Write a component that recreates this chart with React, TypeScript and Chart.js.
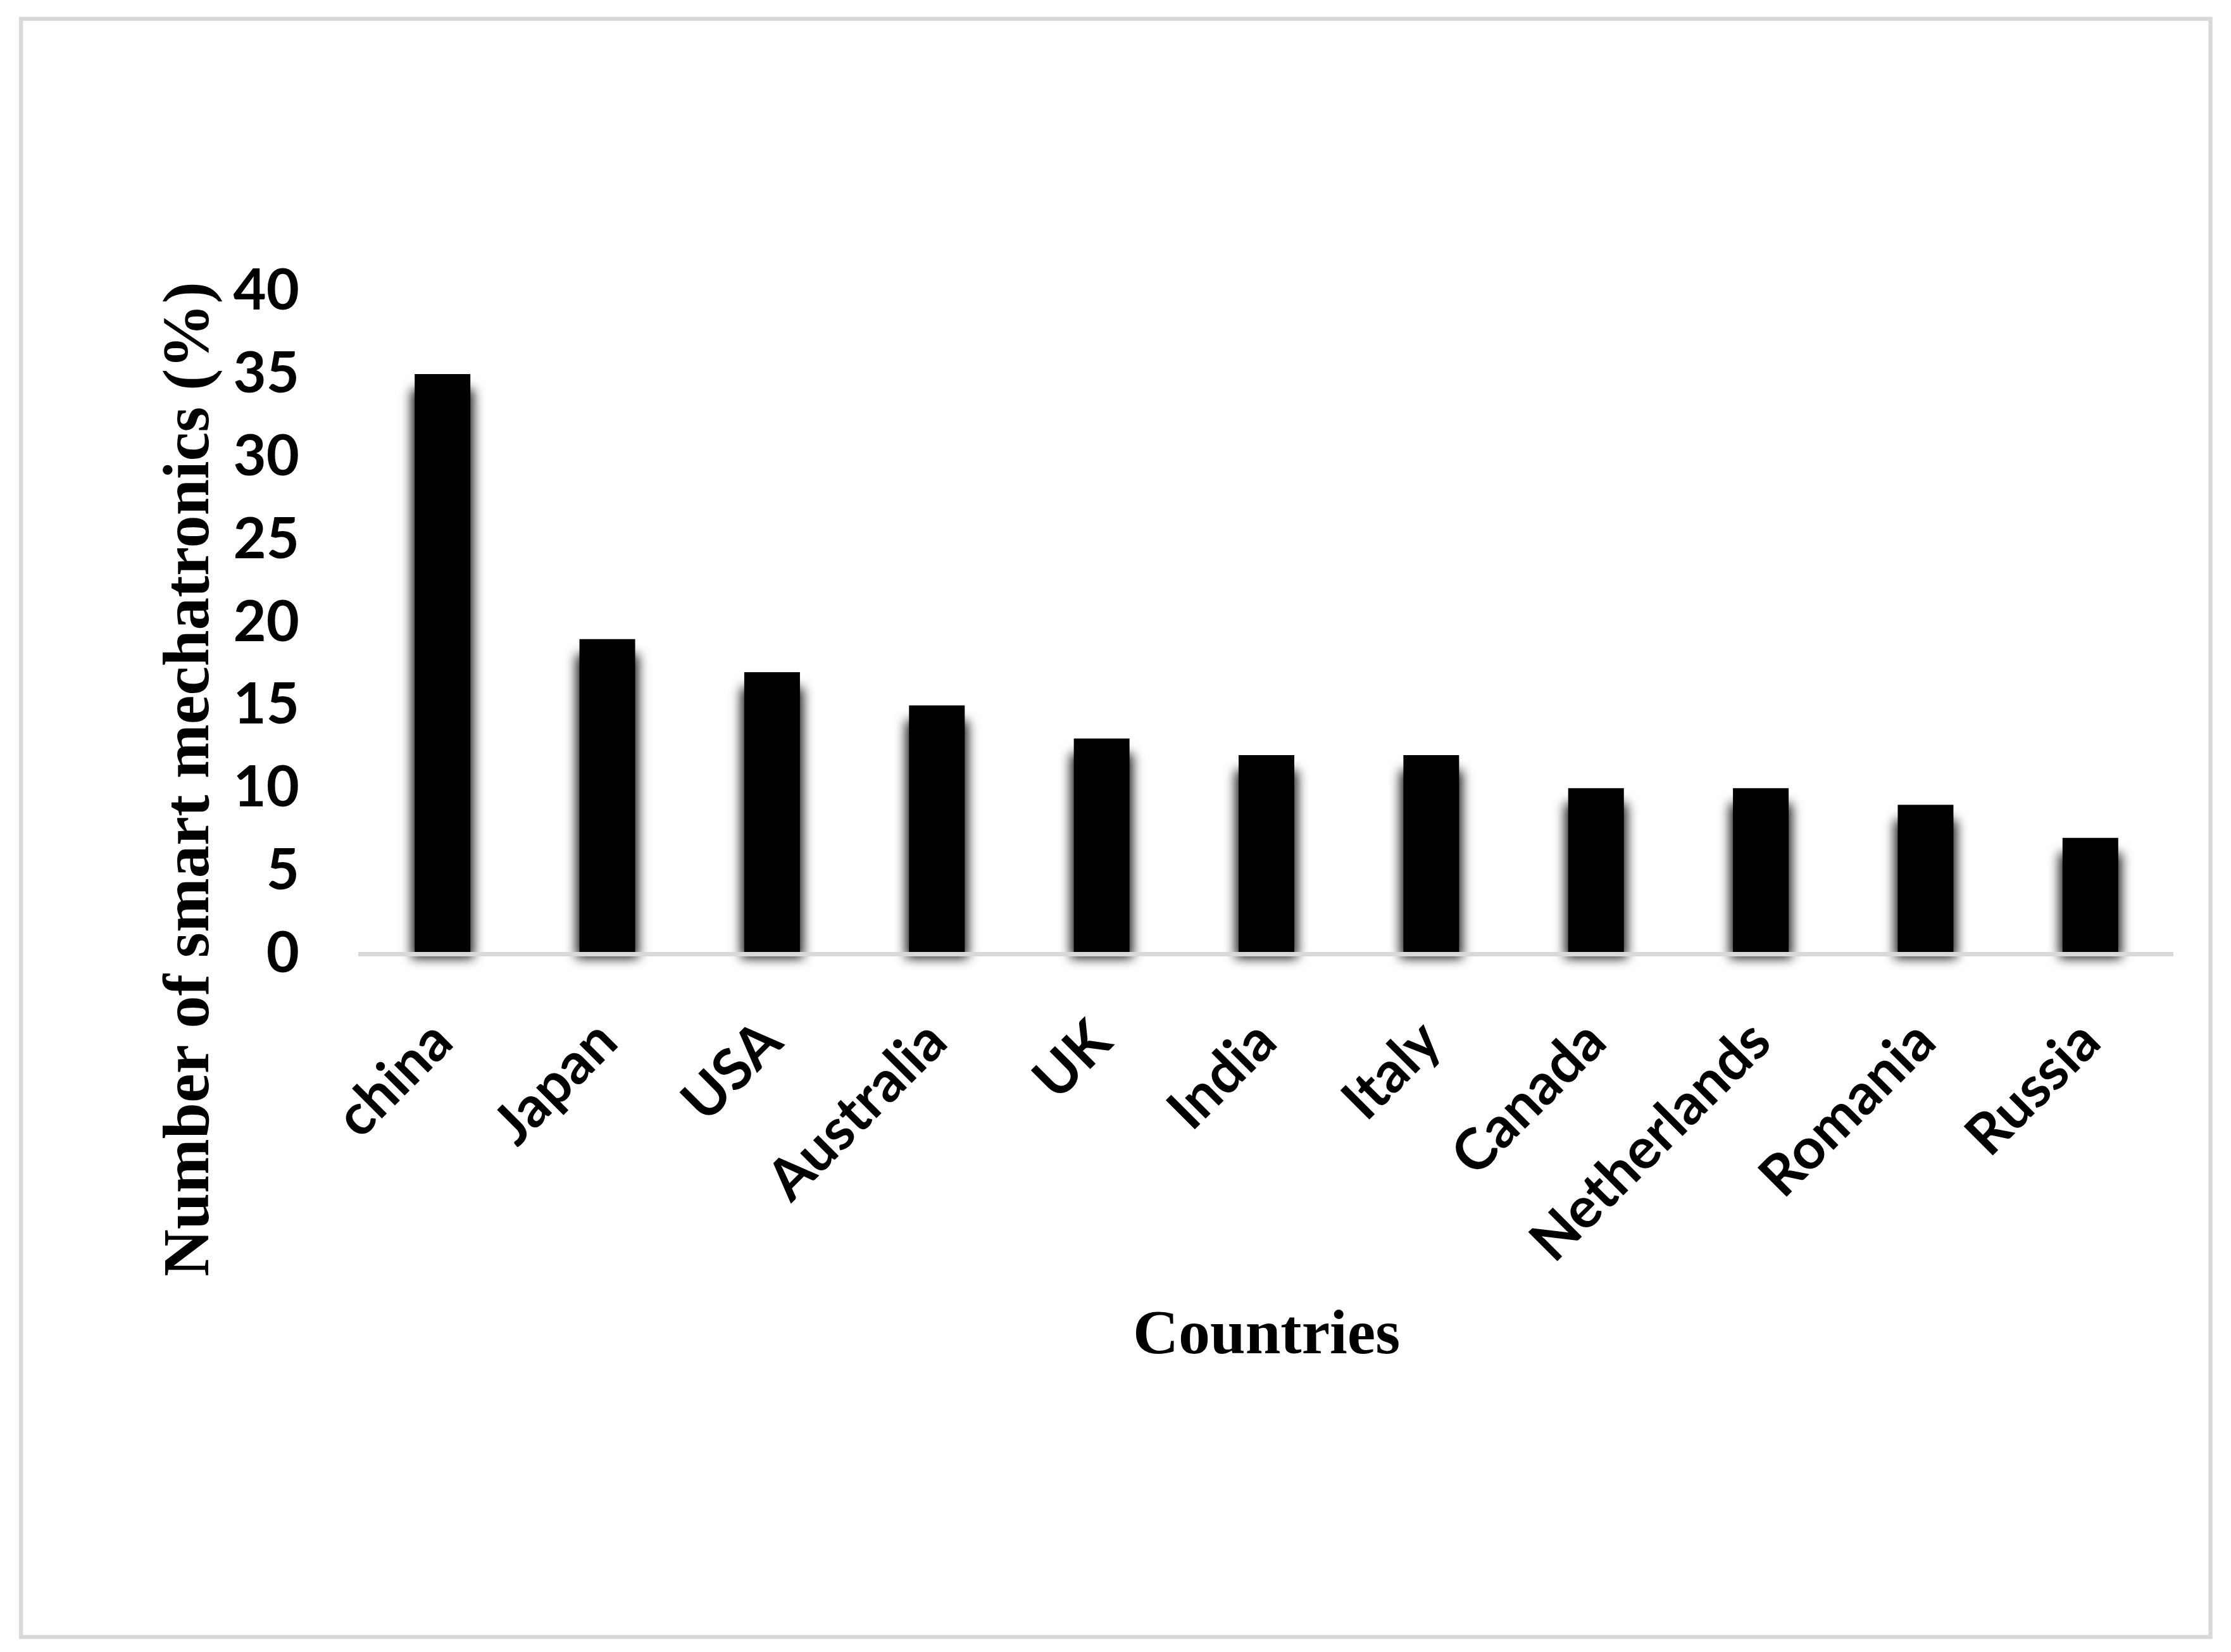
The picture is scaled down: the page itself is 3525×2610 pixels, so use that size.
import React, { useEffect, useRef } from "react";
import { Chart, registerables } from "chart.js";

Chart.register(...registerables);

const categories = ["china", "Japan", "USA", "Australia", "UK", "India", "Italy", "Canada", "Netherlands", "Romania", "Russia"];
const values = [35, 19, 17, 15, 13, 12, 12, 10, 10, 9, 7];
const yMin = 0;
const yMax = 40;
const yStep = 5;
const xTitle = "Countries";
const yTitle = "Number of smart mechatronics (%)";

const W = 3525;
const H = 2610;

const framePlugin = {
  id: "frame",
  beforeDraw(chart: any) {
    const ctx = chart.ctx;
    ctx.save();
    ctx.fillStyle = "#ffffff";
    ctx.fillRect(0, 0, chart.width, chart.height);
    ctx.strokeStyle = "#d9d9d9";
    ctx.lineWidth = 6.5;
    ctx.strokeRect(33.25, 29.75, 3459.25, 2556.5);
    ctx.restore();
  },
};

const shadowPlugin = {
  id: "barShadow",
  beforeDatasetsDraw(chart: any) {
    const ctx = chart.ctx;
    const meta = chart.getDatasetMeta(0);
    ctx.save();
    ctx.filter = "blur(9px)";
    ctx.fillStyle = "rgba(0,0,0,0.9)";
    meta.data.forEach((el: any) => {
      const p = el.getProps(["x", "y", "base", "width"], true);
      const top = p.y + 24;
      ctx.fillRect(p.x - p.width / 2 - 5, top, p.width + 10, p.base - top + 7);
    });
    ctx.restore();
  },
};

const titlePlugin = {
  id: "titles",
  afterDraw(chart: any) {
    const ctx = chart.ctx;
    const area = chart.chartArea;
    ctx.save();
    ctx.fillStyle = "#000000";
    ctx.textAlign = "center";
    ctx.textBaseline = "alphabetic";
    ctx.font = "bold 100px 'Liberation Serif', 'Times New Roman', serif";
    ctx.fillText(xTitle, (area.left + area.right) / 2, 2138);
    ctx.font = "bold 103px 'Liberation Serif', 'Times New Roman', serif";
    ctx.translate(329, 1231);
    ctx.rotate(-Math.PI / 2);
    ctx.fillText(yTitle, 0, 0);
    ctx.restore();
  },
};

export default function App() {
  const ref = useRef<HTMLCanvasElement | null>(null);

  useEffect(() => {
    if (!ref.current) return;
    const chart = new Chart(ref.current, {
      type: "bar",
      data: {
        labels: categories,
        datasets: [
          {
            data: values,
            backgroundColor: "#000000",
            borderWidth: 0,
            categoryPercentage: 1,
            barPercentage: 0.338,
          },
        ],
      },
      options: {
        animation: false,
        responsive: false,
        maintainAspectRatio: false,
        devicePixelRatio: 1,
        layout: { padding: { left: 0, top: 460, right: 92, bottom: 0 } },
        plugins: {
          legend: { display: false },
          tooltip: { enabled: false },
          title: { display: false },
        },
        scales: {
          x: {
            grid: { display: false, drawTicks: false },
            border: { display: true, color: "#d9d9d9", width: 7, z: 1 },
            ticks: {
              autoSkip: false,
              minRotation: 45,
              maxRotation: 45,
              padding: 85,
              color: "#000000",
              font: { family: "Lato, 'Open Sans', sans-serif", weight: "bold", size: 90 },
            },
            afterFit: (scale: any) => {
              scale.height = H - 1507;
            },
          },
          y: {
            min: yMin,
            max: yMax,
            grid: { display: false, drawTicks: false },
            border: { display: false },
            ticks: {
              stepSize: yStep,
              padding: 96,
              color: "#000000",
              font: { family: "Lato, 'Open Sans', sans-serif", weight: "bold", size: 90 },
            },
            afterFit: (scale: any) => {
              scale.width = 569;
            },
          },
        },
      },
      plugins: [framePlugin, shadowPlugin, titlePlugin],
    } as any);
    return () => chart.destroy();
  }, []);

  return (
    <div style={{ position: "absolute", left: 0, top: 0, width: W, height: H }}>
      <canvas ref={ref} width={W} height={H} style={{ display: "block", width: W, height: H }} />
    </div>
  );
}
